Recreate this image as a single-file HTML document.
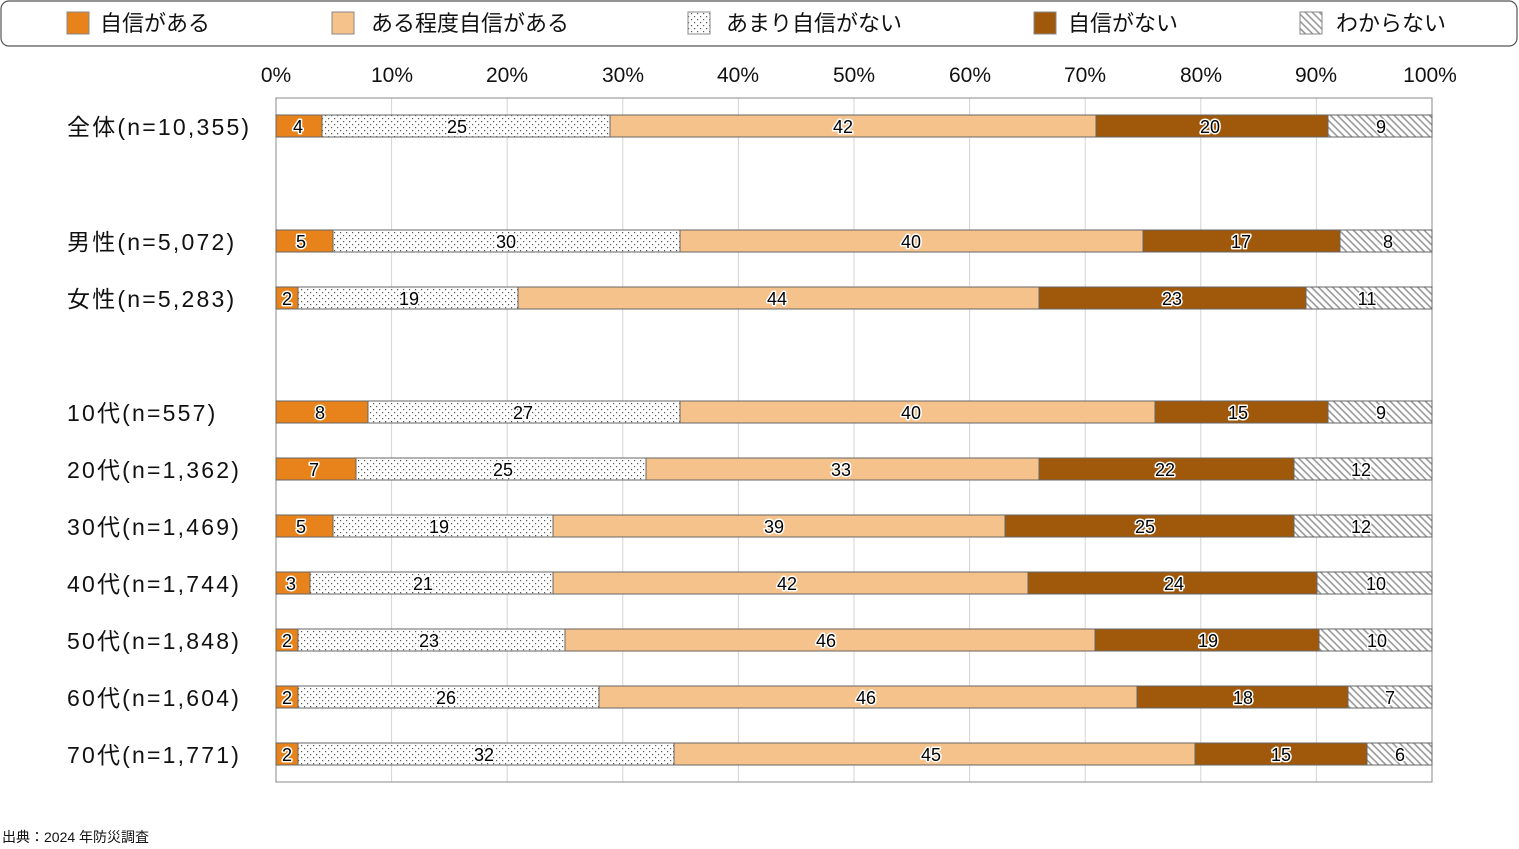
<!DOCTYPE html>
<html><head><meta charset="utf-8"><style>
html,body{margin:0;padding:0;background:#fff;}
svg{display:block;font-family:"Liberation Sans","Noto Sans CJK JP",sans-serif;}
.v{font-size:18px;text-anchor:middle;fill:#000;stroke:#fff;stroke-width:3px;paint-order:stroke;stroke-linejoin:round;}
.c{font-size:23px;fill:#111;letter-spacing:2.2px;}
.ax{font-size:21px;text-anchor:middle;fill:#111;}
.lg{font-size:22px;fill:#111;}
</style></head><body>
<svg width="1519" height="849" viewBox="0 0 1519 849">
<defs>
<pattern id="dot" width="6" height="6" patternUnits="userSpaceOnUse"><rect width="6" height="6" fill="#fff"/><rect x="1" y="1" width="1.2" height="1.2" fill="#555"/><rect x="4" y="4" width="1.2" height="1.2" fill="#555"/></pattern>
<pattern id="hat" width="5" height="5" patternUnits="userSpaceOnUse" patternTransform="rotate(45)"><rect width="5" height="5" fill="#fff"/><rect width="5" height="1.6" fill="#999"/></pattern>
</defs>
<rect x="1" y="1" width="1516" height="45" rx="8" fill="#fff" stroke="#555" stroke-width="1.2"/>
<g stroke="#888" stroke-width="1">
<rect x="67" y="12" width="22" height="22" fill="#E8821A"/>
<rect x="332" y="12" width="22" height="22" fill="#F5C28C"/>
<rect x="688" y="12" width="22" height="22" fill="url(#dot)"/>
<rect x="1034" y="12" width="22" height="22" fill="#A0580A"/>
<rect x="1300" y="12" width="22" height="22" fill="url(#hat)"/>
</g>
<text class="lg" x="100" y="31">自信がある</text>
<text class="lg" x="371" y="31">ある程度自信がある</text>
<text class="lg" x="726" y="31">あまり自信がない</text>
<text class="lg" x="1068" y="31">自信がない</text>
<text class="lg" x="1336" y="31">わからない</text>
<g class="ax">
<text x="276" y="82">0%</text><text x="392" y="82">10%</text><text x="507" y="82">20%</text><text x="623" y="82">30%</text><text x="738" y="82">40%</text><text x="854" y="82">50%</text><text x="970" y="82">60%</text><text x="1085" y="82">70%</text><text x="1201" y="82">80%</text><text x="1316" y="82">90%</text><text x="1430" y="82">100%</text>
</g>
<g stroke="#d4d4d4" stroke-width="1">
<line x1="391.6" y1="98" x2="391.6" y2="782"/><line x1="507.2" y1="98" x2="507.2" y2="782"/><line x1="622.8" y1="98" x2="622.8" y2="782"/><line x1="738.4" y1="98" x2="738.4" y2="782"/><line x1="854" y1="98" x2="854" y2="782"/><line x1="969.6" y1="98" x2="969.6" y2="782"/><line x1="1085.2" y1="98" x2="1085.2" y2="782"/><line x1="1200.8" y1="98" x2="1200.8" y2="782"/><line x1="1316.4" y1="98" x2="1316.4" y2="782"/>
</g>
<rect x="276" y="98" width="1156" height="684" fill="none" stroke="#888" stroke-width="1"/>
<g class="c">
<text x="67" y="135">全体(n=10,355)</text>
<text x="67" y="250">男性(n=5,072)</text>
<text x="67" y="307">女性(n=5,283)</text>
<text x="67" y="421">10代(n=557)</text>
<text x="67" y="478">20代(n=1,362)</text>
<text x="67" y="535">30代(n=1,469)</text>
<text x="67" y="592">40代(n=1,744)</text>
<text x="67" y="649">50代(n=1,848)</text>
<text x="67" y="706">60代(n=1,604)</text>
<text x="67" y="763">70代(n=1,771)</text>
</g>
<g stroke="#666" stroke-width="1">
<rect x="276" y="115" width="46" height="22" fill="#E8821A"/><rect x="322" y="115" width="288" height="22" fill="url(#dot)"/><rect x="610" y="115" width="486" height="22" fill="#F5C28C"/><rect x="1096" y="115" width="232" height="22" fill="#A0580A"/><rect x="1328" y="115" width="104" height="22" fill="url(#hat)"/>
<rect x="276" y="230" width="57" height="22" fill="#E8821A"/><rect x="333" y="230" width="347" height="22" fill="url(#dot)"/><rect x="680" y="230" width="463" height="22" fill="#F5C28C"/><rect x="1143" y="230" width="197" height="22" fill="#A0580A"/><rect x="1340" y="230" width="92" height="22" fill="url(#hat)"/>
<rect x="276" y="287" width="22" height="22" fill="#E8821A"/><rect x="298" y="287" width="220" height="22" fill="url(#dot)"/><rect x="518" y="287" width="521" height="22" fill="#F5C28C"/><rect x="1039" y="287" width="267" height="22" fill="#A0580A"/><rect x="1306" y="287" width="126" height="22" fill="url(#hat)"/>
<rect x="276" y="401" width="92" height="22" fill="#E8821A"/><rect x="368" y="401" width="312" height="22" fill="url(#dot)"/><rect x="680" y="401" width="475" height="22" fill="#F5C28C"/><rect x="1155" y="401" width="173" height="22" fill="#A0580A"/><rect x="1328" y="401" width="104" height="22" fill="url(#hat)"/>
<rect x="276" y="458" width="80" height="22" fill="#E8821A"/><rect x="356" y="458" width="290" height="22" fill="url(#dot)"/><rect x="646" y="458" width="393" height="22" fill="#F5C28C"/><rect x="1039" y="458" width="255" height="22" fill="#A0580A"/><rect x="1294" y="458" width="138" height="22" fill="url(#hat)"/>
<rect x="276" y="515" width="57" height="22" fill="#E8821A"/><rect x="333" y="515" width="220" height="22" fill="url(#dot)"/><rect x="553" y="515" width="452" height="22" fill="#F5C28C"/><rect x="1005" y="515" width="289" height="22" fill="#A0580A"/><rect x="1294" y="515" width="138" height="22" fill="url(#hat)"/>
<rect x="276" y="572" width="34" height="22" fill="#E8821A"/><rect x="310" y="572" width="243" height="22" fill="url(#dot)"/><rect x="553" y="572" width="475" height="22" fill="#F5C28C"/><rect x="1028" y="572" width="289" height="22" fill="#A0580A"/><rect x="1317" y="572" width="115" height="22" fill="url(#hat)"/>
<rect x="276" y="629" width="22" height="22" fill="#E8821A"/><rect x="298" y="629" width="267" height="22" fill="url(#dot)"/><rect x="565" y="629" width="530" height="22" fill="#F5C28C"/><rect x="1095" y="629" width="224" height="22" fill="#A0580A"/><rect x="1319" y="629" width="113" height="22" fill="url(#hat)"/>
<rect x="276" y="686" width="22" height="22" fill="#E8821A"/><rect x="298" y="686" width="301" height="22" fill="url(#dot)"/><rect x="599" y="686" width="538" height="22" fill="#F5C28C"/><rect x="1137" y="686" width="211" height="22" fill="#A0580A"/><rect x="1348" y="686" width="84" height="22" fill="url(#hat)"/>
<rect x="276" y="743" width="22" height="22" fill="#E8821A"/><rect x="298" y="743" width="376" height="22" fill="url(#dot)"/><rect x="674" y="743" width="521" height="22" fill="#F5C28C"/><rect x="1195" y="743" width="172" height="22" fill="#A0580A"/><rect x="1367" y="743" width="65" height="22" fill="url(#hat)"/>
</g>
<g class="v">
<text x="298" y="133">4</text><text x="457" y="133">25</text><text x="843" y="133">42</text><text x="1210" y="133">20</text><text x="1381" y="133">9</text>
<text x="301" y="248">5</text><text x="506" y="248">30</text><text x="911" y="248">40</text><text x="1241" y="248">17</text><text x="1388" y="248">8</text>
<text x="287" y="305">2</text><text x="409" y="305">19</text><text x="777" y="305">44</text><text x="1172" y="305">23</text><text x="1367" y="305">11</text>
<text x="320" y="419">8</text><text x="523" y="419">27</text><text x="911" y="419">40</text><text x="1238" y="419">15</text><text x="1381" y="419">9</text>
<text x="314" y="476">7</text><text x="503" y="476">25</text><text x="841" y="476">33</text><text x="1165" y="476">22</text><text x="1361" y="476">12</text>
<text x="301" y="533">5</text><text x="439" y="533">19</text><text x="774" y="533">39</text><text x="1145" y="533">25</text><text x="1361" y="533">12</text>
<text x="291" y="590">3</text><text x="423" y="590">21</text><text x="787" y="590">42</text><text x="1174" y="590">24</text><text x="1376" y="590">10</text>
<text x="287" y="647">2</text><text x="429" y="647">23</text><text x="826" y="647">46</text><text x="1208" y="647">19</text><text x="1377" y="647">10</text>
<text x="287" y="704">2</text><text x="446" y="704">26</text><text x="866" y="704">46</text><text x="1243" y="704">18</text><text x="1390" y="704">7</text>
<text x="287" y="761">2</text><text x="484" y="761">32</text><text x="931" y="761">45</text><text x="1281" y="761">15</text><text x="1400" y="761">6</text>
</g>
<text x="2" y="842" style="font-size:14px;fill:#111">出典：2024 年防災調査</text>
</svg>
</body></html>
